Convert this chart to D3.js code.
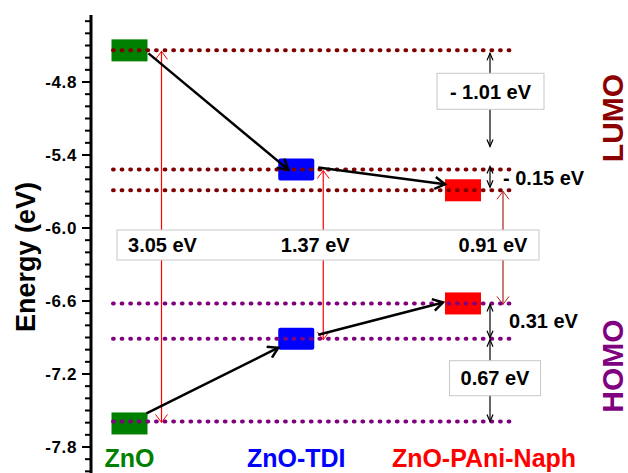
<!DOCTYPE html>
<html><head><meta charset="utf-8">
<script src="https://cdn.jsdelivr.net/npm/d3@7"></script>
<style>
html,body{margin:0;padding:0;background:#fff;}
svg{display:block;font-family:"Liberation Sans",Arial,sans-serif;}
</style></head>
<body><svg id="c" width="628" height="473"></svg>
<script>
// ---- data ----
const categories = ["ZnO", "ZnO-TDI", "ZnO-PAni-Naph"];
const lumo = [-4.54, -5.52, -5.69];
const homo = [-7.59, -6.91, -6.62];
const bandGapLabels = ["3.05 eV", "1.37 eV", "0.91 eV"];
const lumoOffsetLabels = ["- 1.01 eV", "- 0.15 eV"];
const homoOffsetLabels = ["0.31 eV", "0.67 eV"];
const majorTicks = [-4.8, -5.4, -6.0, -6.6, -7.2, -7.8];
const minorTicks = [-4.3,-4.4,-4.5,-4.6,-4.7,-4.9,-5.0,-5.1,-5.2,-5.3,-5.5,-5.6,-5.7,-5.8,-5.9,
  -6.1,-6.2,-6.3,-6.4,-6.5,-6.7,-6.8,-6.9,-7.0,-7.1,-7.3,-7.4,-7.5,-7.6,-7.7,-7.9,-8.0];

// ---- styles / layout ----
const catColors = ["#008000", "#0000ff", "#ff0000"];
const lumoColor = "#800000", homoColor = "#800080";
const gapColors = ["#ff0000", "#ff0000", "#b02020"];
const gapDx = [32, 27, 40];
const gapLabelDx = [1, -8, -10];

const svg = d3.select("#c");
const y = d3.scaleLinear().domain([-4.8, -7.8]).range([82, 447]);
const x = d3.scalePoint().domain(categories).range([129.5, 463]);
const axisX = 91;
const lineX0 = 113, lineX1 = 512;
const boxW = 36, boxH = 22;

// markers
const defs = svg.append("defs");
defs.append("marker").attr("id","bh").attr("markerUnits","userSpaceOnUse")
  .attr("markerWidth",16).attr("markerHeight",16).attr("refX",12).attr("refY",7)
  .attr("orient","auto").append("path").attr("d","M2,1 L12,7 L2,13")
  .attr("fill","none").attr("stroke","#000").attr("stroke-width",2.5);
defs.append("marker").attr("id","rh").attr("markerUnits","userSpaceOnUse")
  .attr("markerWidth",12).attr("markerHeight",14).attr("refX",9).attr("refY",7)
  .attr("orient","auto-start-reverse").append("path").attr("d","M1,1 L9,7 L1,13")
  .attr("fill","none").attr("stroke","#ff0000").attr("stroke-width",1);
defs.append("marker").attr("id","rh2").attr("markerUnits","userSpaceOnUse")
  .attr("markerWidth",12).attr("markerHeight",14).attr("refX",9).attr("refY",7)
  .attr("orient","auto-start-reverse").append("path").attr("d","M1,1 L9,7 L1,13")
  .attr("fill","none").attr("stroke","#b02020").attr("stroke-width",1);
defs.append("marker").attr("id","kh").attr("markerUnits","userSpaceOnUse")
  .attr("markerWidth",10).attr("markerHeight",10).attr("refX",8).attr("refY",4)
  .attr("orient","auto-start-reverse").append("path").attr("d","M1,1 L8,4 L1,7")
  .attr("fill","none").attr("stroke","#000").attr("stroke-width",1.2);

// ---- axis ----
const ax = svg.append("g");
ax.append("line").attr("x1",axisX).attr("x2",axisX).attr("y1",y(-4.25)).attr("y2",480)
  .attr("stroke","#000").attr("stroke-width",3);
ax.selectAll("line.mj").data(majorTicks).enter().append("line")
  .attr("x1",axisX-9).attr("x2",axisX).attr("y1",d=>y(d)).attr("y2",d=>y(d))
  .attr("stroke","#000").attr("stroke-width",2);
ax.selectAll("line.mn").data(minorTicks).enter().append("line")
  .attr("x1",axisX-6).attr("x2",axisX).attr("y1",d=>y(d)).attr("y2",d=>y(d))
  .attr("stroke","#000").attr("stroke-width",2);
ax.selectAll("text").data(majorTicks).enter().append("text")
  .attr("x",axisX-14).attr("y",d=>y(d)).attr("dy","0.36em").attr("text-anchor","end")
  .attr("font-size",17).attr("font-weight","bold").attr("letter-spacing",0.6)
  .text(d=>d.toFixed(1));
svg.append("text").attr("transform",`translate(35,257) rotate(-90)`)
  .attr("text-anchor","middle").attr("font-size",27).attr("font-weight","bold")
  .text("Energy (eV)");

// ---- red band gap arrows ----
const gapG = svg.append("g");
categories.forEach((c,i)=>{
  gapG.append("line").attr("x1",x(c)+gapDx[i]).attr("x2",x(c)+gapDx[i])
    .attr("y1",y(lumo[i])+1).attr("y2",y(homo[i])+1)
    .attr("stroke",gapColors[i]).attr("stroke-width",1.2)
    .attr("marker-start", i===2 ? "url(#rh2)" : "url(#rh)")
    .attr("marker-end", i===2 ? "url(#rh2)" : "url(#rh)");
});

// ---- boxes ----
const bx = svg.append("g");
categories.forEach((c,i)=>{
  [lumo[i], homo[i]].forEach((v,k)=>{
    bx.append("rect").attr("x",x(c)-boxW/2).attr("y",y(v)-boxH/2 + (i===0&&k===1?2:0))
      .attr("width",boxW).attr("height",boxH).attr("rx", i===1?2:0)
      .attr("fill",catColors[i]);
  });
});

// ---- dotted level lines ----
const dl = svg.append("g");
dl.selectAll("line.l").data(lumo).enter().append("line")
  .attr("x1",lineX0).attr("x2",lineX1).attr("y1",d=>y(d)).attr("y2",d=>y(d))
  .attr("stroke",lumoColor).attr("stroke-width",4).attr("stroke-linecap","round")
  .attr("stroke-dasharray","0.8 7.8");
dl.selectAll("line.h").data(homo).enter().append("line")
  .attr("x1",lineX0).attr("x2",lineX1).attr("y1",d=>y(d)).attr("y2",d=>y(d))
  .attr("stroke",homoColor).attr("stroke-width",4).attr("stroke-linecap","round")
  .attr("stroke-dasharray","0.8 7.8");

// ---- black transfer arrows ----
const ta = svg.append("g");
function arrow(x1,y1,x2,y2){
  ta.append("line").attr("x1",x1).attr("y1",y1).attr("x2",x2).attr("y2",y2)
    .attr("stroke","#000").attr("stroke-width",2.5).attr("marker-end","url(#bh)");
}
arrow(x(categories[0])+boxW/2+1, y(lumo[0])+3, x(categories[1])-8, y(lumo[1]));
arrow(x(categories[1])+boxW/2+4, y(lumo[1])-2, x(categories[2])-boxW/2, y(lumo[2])-6);
arrow(x(categories[0])+boxW/2-1, y(homo[0])-8, x(categories[1])-18, y(homo[1])+9);
arrow(x(categories[1])+boxW/2+4, y(homo[1])-4, x(categories[2])-boxW/2-2, y(homo[2])-1);

// ---- thin black offset arrows ----
const oa = svg.append("g");
const offX = 490;
function dbl(y1,y2){
  oa.append("line").attr("x1",offX).attr("x2",offX).attr("y1",y1).attr("y2",y2)
    .attr("stroke","#000").attr("stroke-width",1.2)
    .attr("marker-start","url(#kh)").attr("marker-end","url(#kh)");
}
dbl(y(lumo[0])+3, y(lumo[1])-23);
dbl(y(lumo[1])-3, y(lumo[2])-3);
dbl(y(homo[2])+1, y(homo[1])-1);
dbl(y(homo[1])+1, y(homo[0]));

function labelBox(cx, cy, w, h, txt){
  const g = svg.append("g");
  g.append("rect").attr("x",cx-w/2).attr("y",cy-h/2).attr("width",w).attr("height",h)
    .attr("fill","#fff").attr("stroke","#c8c8c8").attr("stroke-width",1);
  if (txt) g.append("text").attr("x",cx).attr("y",cy).attr("dy","0.36em")
    .attr("text-anchor","middle").attr("font-size",20).attr("font-weight","bold").text(txt);
}
labelBox(offX+0.5, 91.3, 107, 36, lumoOffsetLabels[0]);
svg.append("text").attr("x",503).attr("y",(y(lumo[1])+y(lumo[2]))/2-2).attr("dy","0.36em")
  .attr("font-size",20).attr("font-weight","bold").text(lumoOffsetLabels[1]);
svg.append("text").attr("x",509).attr("y",(y(homo[1])+y(homo[2]))/2).attr("dy","0.36em")
  .attr("font-size",20).attr("font-weight","bold").text(homoOffsetLabels[0]);
labelBox(495, 378.2, 91, 35, homoOffsetLabels[1]);

// ---- band gap label box ----
labelBox(328, 245, 422, 30, null);
categories.forEach((c,i)=>{
  svg.append("text").attr("x",x(c)+gapDx[i]+gapLabelDx[i]).attr("y",245).attr("dy","0.36em")
    .attr("text-anchor","middle").attr("font-size",20).attr("font-weight","bold")
    .text(bandGapLabels[i]);
});

// ---- category labels ----
const catLabelDx = [0, 0, 21];
categories.forEach((c,i)=>{
  svg.append("text").attr("x",x(c)+catLabelDx[i]).attr("y",467)
    .attr("text-anchor","middle").attr("font-size",25).attr("font-weight","bold")
    .attr("fill",catColors[i]).text(c);
});

// ---- side labels ----
svg.append("text").attr("transform","translate(623,118) rotate(-90)").attr("text-anchor","middle")
  .attr("font-size",30).attr("font-weight","bold").attr("fill","#8b0000").text("LUMO");
svg.append("text").attr("transform","translate(623,366) rotate(-90)").attr("text-anchor","middle")
  .attr("font-size",30).attr("font-weight","bold").attr("fill",homoColor).text("HOMO");
</script></body></html>
